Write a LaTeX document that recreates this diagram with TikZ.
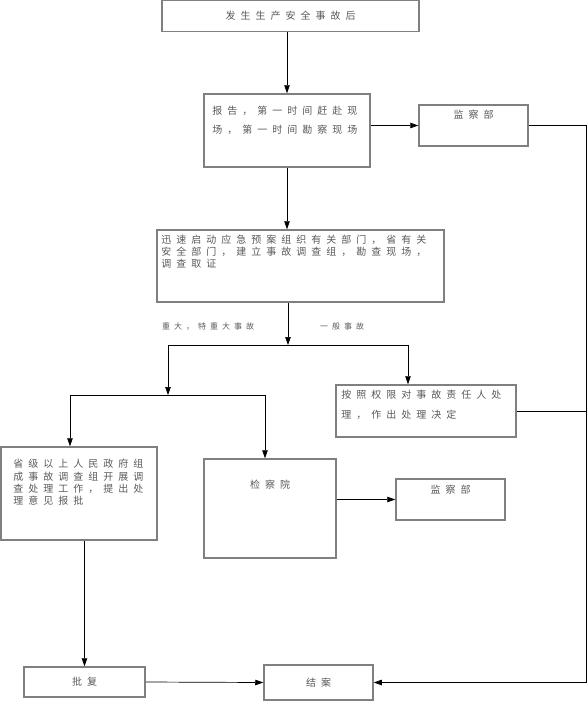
\documentclass[tikz,border=0pt]{standalone}
\usepackage{fontspec}
\newfontfamily\cjk[LetterSpace=50]{Noto Sans CJK SC}
\usetikzlibrary{arrows.meta,positioning}
\tikzset{
box/.style={draw=black!50, line width=1.5pt, inner sep=0pt},
txt/.style={inner sep=0pt, text=black!65, align=left, font=\cjk\fontsize{10}{#1}\selectfont},
txt/.default=12,
arr/.style={line width=0.7pt, -{Triangle[length=8pt,width=5.5pt]}},
ln/.style={line width=0.7pt},
}

\begin{document}
\begin{tikzpicture}[x=1pt,y=-1pt]
\useasboundingbox (0,0) rectangle (588,701);

\node[box, txt, minimum width=257, minimum height=31] (top) at (290.5,16) {发生生产安全事故后};
\node[box, minimum width=166, minimum height=73] (rep) at (287,130.5) {};
\node[box, minimum width=109, minimum height=41] (aid1) at (473.5,125.5) {};
\node[box, minimum width=287, minimum height=72] (inv) at (300.5,266) {};
\node[box, minimum width=180, minimum height=52] (dec) at (426,411) {};
\node[box, minimum width=156, minimum height=93] (sup) at (79,493.5) {};
\node[box, minimum width=132, minimum height=99] (mid) at (270,508.5) {};
\node[box, minimum width=109, minimum height=41] (aid2) at (450.5,499.5) {};
\node[box, txt, minimum width=121, minimum height=30] (app) at (84.5,682) {批复};
\node[box, txt, minimum width=109, minimum height=35] (end) at (318.5,682.5) {结案};

\node[txt=19, anchor=north west] (repTxt) at ([shift={(9,13)}]rep.north west) {报告，第一时间赶赴现\\场，第一时间勘察现场};
\node[txt, anchor=base] (aid1Txt) at ([shift={(0,14)}]aid1.north) {监察部};
\node[txt=11.7, anchor=north west] (invTxt) at ([shift={(5,6)}]inv.north west) {迅速启动应急预案组织有关部门，省有关\\安全部门，建立事故调查组，勘查现场，\\调查取证};
\node[txt=20, anchor=north west] (decTxt) at ([shift={(6,6)}]dec.north west) {按照权限对事故责任人处\\理，作出处理决定};
\node[txt=12.2, anchor=north west] (supTxt) at ([shift={(13,13)}]sup.north west) {省级以上人民政府组\\成事故调查组开展调\\查处理工作，提出处\\理意见报批};
\node[txt, anchor=base] (midTxt) at ([shift={(0,30)}]mid.north) {检察院};
\node[txt, anchor=base] (aid2Txt) at ([shift={(0,15)}]aid2.north) {监察部};

\coordinate (s1) at (288,345);
\coordinate (s1L) at (168,345);
\coordinate (s1R) at (408,345);
\coordinate (s2L) at (70,395);
\coordinate (s2R) at (265,395);
\coordinate (rail) at (586,0);

\node[txt=12, font=\cjk\fontsize{8}{10}\selectfont, anchor=base west] (labL) at ([shift={(-126,-16)}]s1) {重大，特重大事故};
\node[txt=12, font=\cjk\fontsize{8}{10}\selectfont, anchor=base west] (labR) at ([shift={(32,-16)}]s1) {一般事故};

\draw[arr] (rep.north |- top.south) -- (rep.north);
\draw[arr] (rep.east |- aid1.west) -- (aid1.west);
\draw[arr] (rep.south) -- (rep.south |- inv.north);
\draw[arr] (inv.south -| s1) -- (s1);
\draw[ln] (s1L) -- (s1R);
\draw[arr] (s1L) -- (s1L |- s2L);
\draw[arr] (s1R) -- (s1R |- dec.north);
\draw[ln] (s2L) -- (s2R);
\draw[arr] (s2L) -- (s2L |- sup.north);
\draw[arr] (s2R) -- (s2R |- mid.north);
\draw[arr] (mid.east |- aid2.west) -- (aid2.west);
\draw[arr] (sup.south -| app.north) -- (app.north);
\draw[arr] (app.east) -- (end.west);
\draw[arr] (aid1.east) -| (rail |- end.east) -- (end.east);
\draw[ln] (dec.east) -- (dec.east -| rail);
\end{tikzpicture}
\end{document}
